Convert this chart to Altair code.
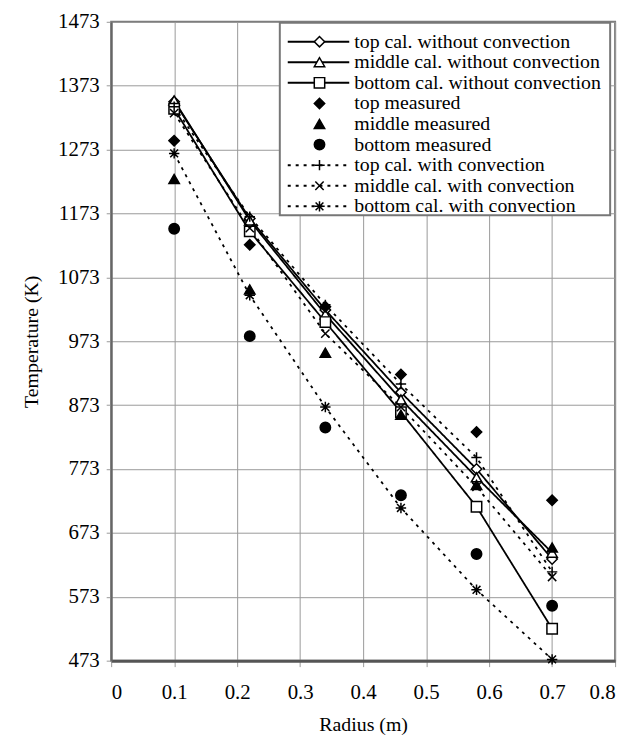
import altair as alt
import pandas as pd

radius = [0.1, 0.22, 0.34, 0.46, 0.58, 0.7]

series_names = [
    "top cal. without convection",
    "middle cal. without convection",
    "bottom cal. without convection",
    "top measured",
    "middle measured",
    "bottom measured",
    "top cal. with convection",
    "middle cal. with convection",
    "bottom cal. with convection",
]

top_cal_wo = [1348, 1165, 1022, 893, 773, 632]
mid_cal_wo = [1350, 1162, 1015, 882, 760, 642]
bot_cal_wo = [1337, 1145, 1003, 862, 714, 523]
top_meas = [1287, 1124, 1027, 921, 831, 724]
mid_meas = [1227, 1054, 955, 858, 748, 650]
bot_meas = [1149, 981, 838, 732, 640, 559]
top_cal_conv = [1340, 1168, 1030, 906, 791, 612]
mid_cal_conv = [1330, 1150, 985, 870, 745, 604]
bot_cal_conv = [1267, 1045, 870, 712, 584, 475]

all_values = [top_cal_wo, mid_cal_wo, bot_cal_wo, top_meas, mid_meas, bot_meas,
              top_cal_conv, mid_cal_conv, bot_cal_conv]

line_kind = ["solid", "solid", "solid", "none", "none", "none", "dash", "dash", "dash"]

PLUS = "M-1,0L1,0M0,-1L0,1"
XSH = "M-0.8,-0.8L0.8,0.8M-0.8,0.8L0.8,-0.8"
AST = "M-1,0L1,0M0,-1L0,1M-0.75,-0.75L0.75,0.75M-0.75,0.75L0.75,-0.75"
shapes = ["diamond", "triangle-up", "square", "diamond", "triangle-up", "circle", PLUS, XSH, AST]
fills = ["white", "white", "white", "black", "black", "black", "black", "black", "black"]
sizes = [110, 110, 130, 90, 110, 120, 130, 110, 130]

x_ticks = [0, 0.1, 0.2, 0.3, 0.4, 0.5, 0.6, 0.7, 0.8]
y_ticks = [473, 573, 673, 773, 873, 973, 1073, 1173, 1273, 1373, 1473]

rows = []
for i, (name, vals) in enumerate(zip(series_names, all_values)):
    for r, t in zip(radius, vals):
        rows.append({"series": name, "r": r, "T": t, "kind": line_kind[i], "order": i})
df = pd.DataFrame(rows)

leg = pd.DataFrame({"series": series_names, "row": list(range(9)), "kind": line_kind})

FONT = "Liberation Serif"
W, H = 508, 644

xscale = alt.Scale(domain=[0, 0.8], nice=False)
yscale = alt.Scale(domain=[473, 1473], nice=False, zero=False)
shape_scale = alt.Scale(domain=series_names, range=shapes)
fill_scale = alt.Scale(domain=series_names, range=fills)
size_scale = alt.Scale(domain=series_names, range=sizes)
dash_scale = alt.Scale(domain=["solid", "dash"], range=[[1, 0], [3, 5]])

x_enc = alt.X("r:Q", scale=xscale, title="Radius (m)",
              axis=alt.Axis(values=x_ticks, format="~g", grid=True, tickSize=6,
                            labelPadding=15, titlePadding=12,
                            domainColor="#555", domainWidth=3))

lines = alt.Chart(df).transform_filter(alt.datum.kind != "none").mark_line(
    color="black", strokeWidth=1.8
).encode(
    x=x_enc,
    y=alt.Y("T:Q", scale=yscale, title="Temperature (K)",
            axis=alt.Axis(values=y_ticks, format="d", grid=True, tickSize=5, labelPadding=7,
                          titlePadding=16, domainColor="#666", domainWidth=2)),
    detail="series:N",
    strokeDash=alt.StrokeDash("kind:N", scale=dash_scale, legend=None),
)

points = alt.Chart(df).mark_point(filled=False, stroke="black", strokeWidth=1.5, opacity=1).encode(
    x=alt.X("r:Q", scale=xscale),
    y=alt.Y("T:Q", scale=yscale, axis=None),
    shape=alt.Shape("series:N", scale=shape_scale, legend=None),
    fill=alt.Fill("series:N", scale=fill_scale, legend=None),
    size=alt.Size("series:N", scale=size_scale, legend=None),
    order=alt.Order("order:Q"),
)

leg_y_scale = alt.Scale(domain=[0, 8], range=[20, 186])

leg_box = alt.Chart(leg).transform_filter(alt.datum.row == 0).mark_rect(
    fill="white", stroke="#777", strokeWidth=2
).encode(
    x=alt.value(170), x2=alt.value(503), y=alt.value(1), y2=alt.value(195)
)

leg_lines = alt.Chart(leg).transform_filter(alt.datum.kind != "none").mark_rule(
    color="black", strokeWidth=2
).encode(
    x=alt.value(178), x2=alt.value(240),
    y=alt.Y("row:Q", scale=leg_y_scale, axis=None),
    strokeDash=alt.StrokeDash("kind:N", scale=dash_scale, legend=None),
)

leg_points = alt.Chart(leg).mark_point(filled=False, stroke="black", strokeWidth=1.5, opacity=1).encode(
    x=alt.value(210),
    y=alt.Y("row:Q", scale=leg_y_scale, axis=None),
    shape=alt.Shape("series:N", scale=shape_scale, legend=None),
    fill=alt.Fill("series:N", scale=fill_scale, legend=None),
    size=alt.Size("series:N", scale=size_scale, legend=None),
)

leg_text = alt.Chart(leg).mark_text(
    align="left", baseline="middle", font=FONT, fontSize=20, color="black", dx=0
).encode(
    x=alt.value(245),
    y=alt.Y("row:Q", scale=leg_y_scale, axis=None),
    text="series:N",
)

chart = alt.layer(lines, points, leg_box, leg_lines, leg_points, leg_text).resolve_scale(
    y="independent"
).properties(
    width=W, height=H,
    autosize=alt.AutoSizeParams(type="none"),
    padding={"left": 104, "top": 11, "right": 14, "bottom": 72},
).configure_view(
    stroke="#777", strokeWidth=2
).configure_axis(
    labelFont=FONT, titleFont=FONT, labelFontSize=21, titleFontSize=20,
    labelColor="black", titleColor="black", titleFontWeight="normal",
    gridColor="#999", gridWidth=1, tickColor="#999",
)

chart.save("out.html", embed_options={"renderer": "svg", "actions": False})
